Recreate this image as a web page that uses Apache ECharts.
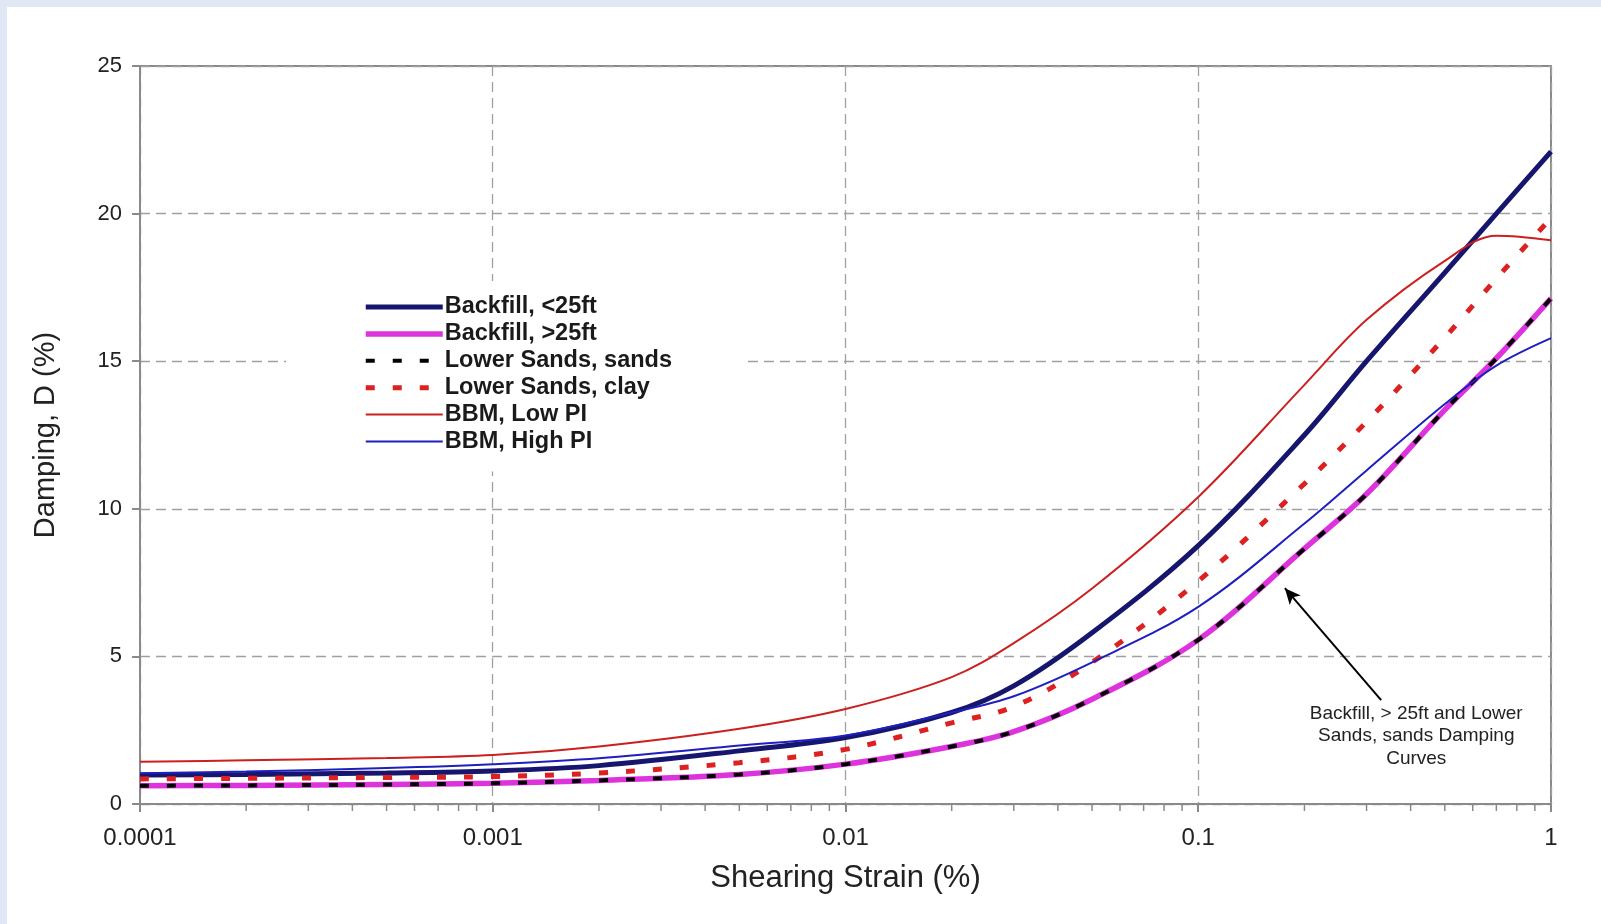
<!DOCTYPE html>
<html>
<head>
<meta charset="utf-8">
<title>Damping curves</title>
<script src="https://cdn.jsdelivr.net/npm/echarts@6/dist/echarts.min.js"></script>
<style>
  html, body {
    margin: 0;
    padding: 0;
    width: 1601px;
    height: 924px;
    background: #dfe8f4;
    overflow: hidden;
  }
  #chart {
    position: absolute;
    left: 7px;
    top: 7px;
    width: 1594px;
    height: 917px;
    background: #fff;
  }
</style>
</head>
<body>
<div id="chart"></div>
<script>
const strain = [0.0001, 0.0002, 0.0005, 0.001, 0.002, 0.005, 0.01, 0.02, 0.03, 0.05, 0.1, 0.2, 0.3, 0.5, 0.7, 1];

// damping D (%)
const backfillShallow = [0.98, 1.0, 1.05, 1.12, 1.3, 1.8, 2.25, 3.1, 4.0, 5.8, 8.75, 12.5, 15.0, 18.0, 20.0, 22.1];
const backfillDeep = [0.62, 0.63, 0.66, 0.7, 0.8, 1.0, 1.35, 1.95, 2.45, 3.55, 5.56, 8.65, 10.5, 13.35, 15.1, 17.13];
const lowerSandsSands = [0.62, 0.63, 0.66, 0.7, 0.8, 1.0, 1.35, 1.95, 2.45, 3.55, 5.56, 8.65, 10.5, 13.35, 15.1, 17.13];
const lowerSandsClay = [0.85, 0.87, 0.9, 0.93, 1.05, 1.4, 1.85, 2.75, 3.3, 4.8, 7.55, 10.85, 12.95, 15.8, 17.8, 19.85];
const bbmLowPI = [1.43, 1.48, 1.56, 1.66, 1.95, 2.55, 3.22, 4.3, 5.45, 7.3, 10.4, 14.2, 16.4, 18.4, 19.25, 19.1];
const bbmHighPI = [1.04, 1.1, 1.22, 1.35, 1.55, 1.98, 2.32, 3.1, 3.65, 4.8, 6.68, 9.5, 11.3, 13.55, 14.85, 15.78];

const seriesNames = ['Backfill, <25ft', 'Backfill, >25ft', 'Lower Sands, sands', 'Lower Sands, clay', 'BBM, Low PI', 'BBM, High PI'];

// log minor ticks 2..9 in each decade
const decades = [0.0001, 0.001, 0.01, 0.1];
const multipliers = [2, 3, 4, 5, 6, 7, 8, 9];
const minorTicks = [];
decades.forEach(d => multipliers.forEach(m => minorTicks.push(+(d * m).toPrecision(3))));

// annotation (arrow tail/tip and text centre, in data units)
const arrowFrom = [0.33, 3.52];
const arrowTo = [0.176, 7.31];
const noteAt = [0.415, 2.3];
const noteText = 'Backfill, > 25ft and Lower\nSands, sands Damping\nCurves';

const FONT = "'Liberation Sans', Arial, sans-serif";
const pairs = vals => strain.map((s, i) => [s, vals[i]]);

const chart = echarts.init(document.getElementById('chart'));

const lineSeries = (name, vals, color, width, type, extra) => Object.assign({
  name: name,
  type: 'line',
  data: pairs(vals),
  symbol: 'none',
  smooth: 0.35,
  lineStyle: { color: color, width: width, type: type, cap: 'butt' },
  itemStyle: { color: color },
  emphasis: { disabled: true }
}, extra || {});

chart.setOption({
  animation: false,
  textStyle: { fontFamily: FONT },
  grid: {
    left: 133,
    right: 50,
    top: 59,
    bottom: 120,
    show: true,
    borderColor: '#8a8a8a',
    borderWidth: 2,
    backgroundColor: 'transparent'
  },
  legend: {
    data: seriesNames,
    orient: 'vertical',
    left: 279,
    top: 274,
    padding: [14, 70, 18, 77],
    backgroundColor: '#fff',
    itemWidth: 77,
    itemHeight: 20,
    itemGap: 2.9,
    selectedMode: false,
    itemStyle: { opacity: 0 },
    lineStyle: { width: 'inherit' },
    textStyle: {
      fontFamily: FONT,
      fontSize: 23.5,
      fontWeight: 'bold',
      color: '#1a1a1a',
      lineHeight: 20,
      padding: [0, 0, 0, -3]
    }
  },
  xAxis: {
    type: 'log',
    logBase: 10,
    min: 0.0001,
    max: 1,
    name: 'Shearing Strain (%)',
    nameLocation: 'middle',
    nameGap: 59,
    nameTextStyle: { fontFamily: FONT, fontSize: 31, color: '#222' },
    axisLine: { lineStyle: { color: '#8a8a8a', width: 2 } },
    axisTick: { show: true, length: 8, lineStyle: { color: '#8a8a8a', width: 2 } },
    axisLabel: {
      margin: 22,
      fontFamily: FONT,
      fontSize: 24,
      color: '#222',
      formatter: v => String(parseFloat(Number(v).toPrecision(6)))
    },
    splitLine: { show: true, lineStyle: { color: '#a0a0a0', width: 1.3, type: [10, 6] } }
  },
  yAxis: {
    type: 'value',
    min: 0,
    max: 25,
    interval: 5,
    name: 'Damping, D (%)',
    nameLocation: 'middle',
    nameGap: 80,
    nameTextStyle: { fontFamily: FONT, fontSize: 29, color: '#222' },
    axisLine: { show: true, lineStyle: { color: '#8a8a8a', width: 2 } },
    axisTick: { show: true, length: 8, lineStyle: { color: '#8a8a8a', width: 2 } },
    axisLabel: { margin: 18, fontFamily: FONT, fontSize: 22, color: '#222' },
    splitLine: { show: true, lineStyle: { color: '#a0a0a0', width: 1.3, type: [10, 6] } }
  },
  series: [
    {
      name: 'minor ticks',
      type: 'custom',
      data: minorTicks.map(v => [v, 0]),
      clip: false,
      silent: true,
      z: 1,
      renderItem: (params, api) => {
        const p = api.coord([api.value(0), 0]);
        return {
          type: 'line',
          shape: { x1: p[0], y1: p[1], x2: p[0], y2: p[1] + 7 },
          style: { stroke: '#8a8a8a', lineWidth: 1.5 }
        };
      }
    },
    lineSeries(seriesNames[0], backfillShallow, '#16166e', 5, 'solid'),
    lineSeries(seriesNames[1], backfillDeep, '#dd33dd', 5.5, 'solid'),
    lineSeries(seriesNames[2], lowerSandsSands, '#000000', 4, [9, 18], {
      markLine: {
        silent: true,
        symbol: ['none', 'arrow'],
        symbolSize: [11, 16],
        label: { show: false },
        lineStyle: { color: '#000', width: 2, type: 'solid' },
        data: [[{ coord: arrowFrom }, { coord: arrowTo }]]
      },
      markPoint: {
        silent: true,
        symbol: 'circle',
        symbolSize: 1,
        itemStyle: { color: 'rgba(0,0,0,0)' },
        label: {
          show: true,
          position: 'inside',
          formatter: noteText,
          fontFamily: FONT,
          fontSize: 19,
          lineHeight: 22.5,
          align: 'center',
          color: '#222'
        },
        data: [{ coord: noteAt }]
      }
    }),
    lineSeries(seriesNames[3], lowerSandsClay, '#dd2020', 5, [9, 18]),
    lineSeries(seriesNames[4], bbmLowPI, '#cc1f1f', 2, 'solid'),
    lineSeries(seriesNames[5], bbmHighPI, '#1f1fc0', 2, 'solid')
  ]
});
</script>
</body>
</html>
